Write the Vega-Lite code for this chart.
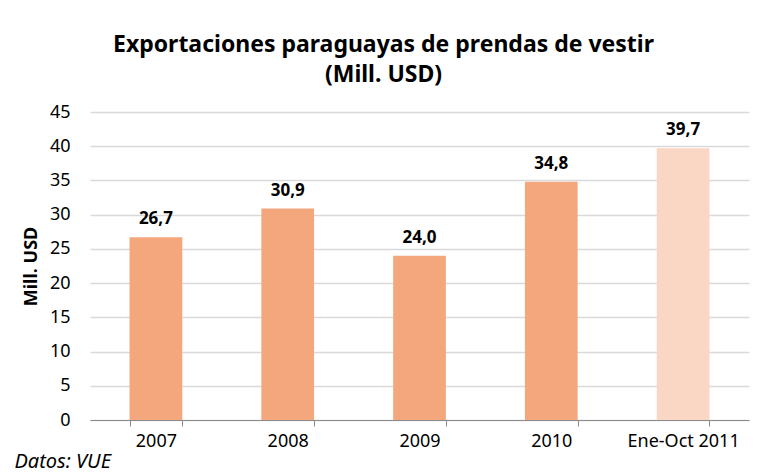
{
  "$schema": "https://vega.github.io/schema/vega-lite/v6.json",
  "autosize": {"type": "none"},
  "width": 659,
  "height": 308,
  "padding": {"left": 90, "top": 112, "right": 18, "bottom": 53},
  "background": "white",
  "config": {
    "font": "Noto Sans",
    "view": {"stroke": null}
  },
  "title": {
    "text": ["Exportaciones paraguayas de prendas de vestir", "(Mill. USD)"],
    "fontSize": 23,
    "fontWeight": "bold",
    "color": "#000000",
    "lineHeight": 30,
    "offset": 16,
    "dx": -36
  },
  "data": {
    "values": [
      {"periodo": "2007", "valor": 26.7, "label": "26,7", "parcial": "no"},
      {"periodo": "2008", "valor": 30.9, "label": "30,9", "parcial": "no"},
      {"periodo": "2009", "valor": 24.0, "label": "24,0", "parcial": "no"},
      {"periodo": "2010", "valor": 34.8, "label": "34,8", "parcial": "no"},
      {"periodo": "Ene-Oct 2011", "valor": 39.7, "label": "39,7", "parcial": "si"}
    ]
  },
  "encoding": {
    "x": {
      "field": "periodo",
      "type": "nominal",
      "sort": null,
      "scale": {"paddingInner": 0.6, "paddingOuter": 0.3},
      "axis": {
        "title": "Datos: VUE",
        "titleFontStyle": "italic",
        "titleFontWeight": "normal",
        "titleFontSize": 20,
        "titleColor": "#000000",
        "titleAnchor": "start",
        "titleAlign": "left",
        "titleBaseline": "alphabetic",
        "titleX": -76,
        "titleY": 47,
        "labelAngle": 0,
        "labelFontSize": 18,
        "labelColor": "#000000",
        "labelPadding": 6,
        "tickBand": "extent",
        "tickSize": 6,
        "tickColor": "#8c8c8c",
        "domainColor": "#8c8c8c",
        "grid": false
      }
    },
    "y": {
      "field": "valor",
      "type": "quantitative",
      "scale": {"domain": [0, 45], "nice": false},
      "axis": {
        "title": "Mill. USD",
        "titleFontSize": 18,
        "titleFontWeight": "bold",
        "titleColor": "#000000",
        "titlePadding": 9,
        "values": [0, 5, 10, 15, 20, 25, 30, 35, 40, 45],
        "labelFontSize": 18,
        "labelColor": "#000000",
        "labelPadding": 20,
        "ticks": false,
        "domain": false,
        "gridColor": "#d9d9d9",
        "gridWidth": 1.5
      }
    }
  },
  "layer": [
    {
      "mark": {"type": "bar"},
      "encoding": {
        "color": {
          "field": "parcial",
          "type": "nominal",
          "scale": {"domain": ["no", "si"], "range": ["#F4A77C", "#FAD6C4"]},
          "legend": null
        }
      }
    },
    {
      "mark": {"type": "text", "dy": -18, "fontSize": 17, "fontWeight": "bold", "color": "#000000", "letterSpacing": 0.8},
      "encoding": {"text": {"field": "label"}}
    }
  ]
}
